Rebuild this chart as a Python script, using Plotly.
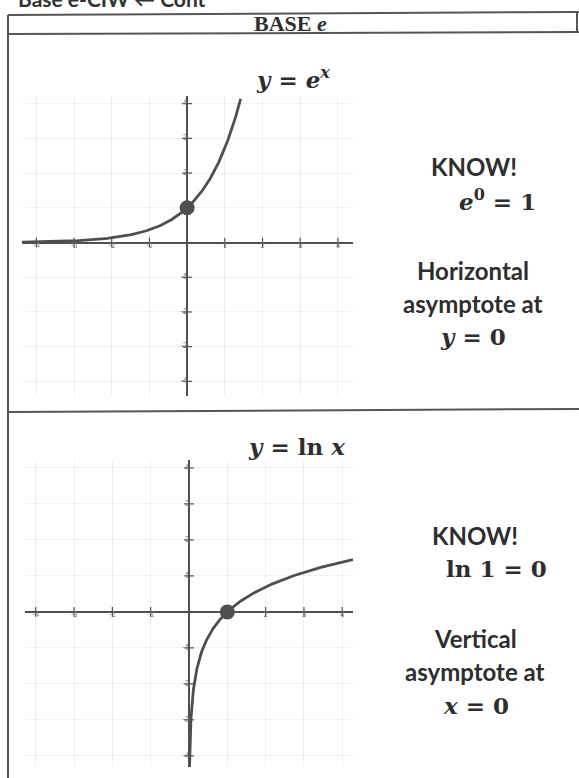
import numpy as np
import plotly.graph_objects as go

W, H = 579, 778

# Integer tick positions shared by both coordinate planes
TICKS = [-4, -3, -2, -1, 1, 2, 3, 4]
GRID = [-4, -3, -2, -1, 0, 1, 2, 3, 4]

# Plot windows (data units)
EXP_XRANGE = [-4.38, 4.40]
EXP_YRANGE = [-4.42, 4.22]
LN_XRANGE = [-4.28, 4.28]
LN_YRANGE = [-4.31, 4.22]

# Highlighted points: e^0 = 1 and ln 1 = 0
EXP_POINT = (0, 1)
LN_POINT = (1, 0)

# Curve samples
exp_x = np.arange(EXP_XRANGE[0], 1.44, 0.02)
exp_y = np.exp(exp_x)
ln_x = np.geomspace(np.exp(LN_YRANGE[0]), LN_XRANGE[1], 300)
ln_y = np.log(ln_x)

INK = "#4f4f4f"
TEXT = "#2e2e2e"
GRIDC = "rgba(0,0,0,0.06)"
SERIF = "Liberation Serif"
MATH = "DejaVu Serif"
SANS = "Lato"
SP = "\u00a0"


def px(x):
    return x / W


def py(y):
    return 1 - y / H


fig = go.Figure()


def plane(xref, yref, cx, cy, pt):
    # curve
    fig.add_trace(go.Scatter(x=cx, y=cy, mode="lines", xaxis=xref, yaxis=yref,
                             line=dict(color=INK, width=2.8), hoverinfo="skip"))
    # tick marks on the axes
    fig.add_trace(go.Scatter(x=TICKS, y=[0] * len(TICKS), mode="markers",
                             xaxis=xref, yaxis=yref,
                             marker=dict(symbol="line-ns", size=7,
                                         line=dict(color=INK, width=1.2)),
                             hoverinfo="skip"))
    fig.add_trace(go.Scatter(x=[0] * len(TICKS), y=TICKS, mode="markers",
                             xaxis=xref, yaxis=yref,
                             marker=dict(symbol="line-ew", size=7,
                                         line=dict(color=INK, width=1.2)),
                             hoverinfo="skip"))
    # tick labels
    fig.add_trace(go.Scatter(x=TICKS, y=[0] * len(TICKS), mode="text",
                             xaxis=xref, yaxis=yref,
                             text=[str(t) for t in TICKS],
                             textposition="bottom center",
                             textfont=dict(size=7, color="#777", family=SANS),
                             hoverinfo="skip"))
    fig.add_trace(go.Scatter(x=[0] * len(TICKS), y=TICKS, mode="text",
                             xaxis=xref, yaxis=yref,
                             text=[str(t) for t in TICKS],
                             textposition="middle left",
                             textfont=dict(size=7, color="#777", family=SANS),
                             hoverinfo="skip"))
    # key point
    fig.add_trace(go.Scatter(x=[pt[0]], y=[pt[1]], mode="markers",
                             xaxis=xref, yaxis=yref,
                             marker=dict(size=15, color=INK), hoverinfo="skip"))


plane("x", "y", exp_x, exp_y, EXP_POINT)
plane("x2", "y2", ln_x, ln_y, LN_POINT)

axis_common = dict(showgrid=True, gridcolor=GRIDC, gridwidth=1,
                   zeroline=True, zerolinecolor=INK, zerolinewidth=2,
                   showticklabels=False, ticks="", showline=False,
                   tickmode="array", tickvals=GRID, fixedrange=True)

fig.update_layout(
    width=W, height=H, margin=dict(l=0, r=0, t=0, b=0),
    paper_bgcolor="white", plot_bgcolor="white", showlegend=False,
    xaxis=dict(domain=[px(22), px(353)], range=EXP_XRANGE, anchor="y", **axis_common),
    yaxis=dict(domain=[py(396), py(96)], range=EXP_YRANGE, anchor="x", **axis_common),
    xaxis2=dict(domain=[px(25), px(353)], range=LN_XRANGE, anchor="y2", **axis_common),
    yaxis2=dict(domain=[py(767), py(460)], range=LN_YRANGE, anchor="x2", **axis_common),
)

# Table frame
FRAME = "#555"
shapes = [
    dict(type="line", x0=px(8), x1=px(579), y0=py(15), y1=py(12)),
    dict(type="line", x0=px(8), x1=px(579), y0=py(34), y1=py(32)),
    dict(type="line", x0=px(8), x1=px(579), y0=py(412), y1=py(409)),
    dict(type="line", x0=px(8), x1=px(8), y0=py(15), y1=py(778)),
    dict(type="line", x0=px(577), x1=px(577), y0=py(12), y1=py(32)),
]
for s in shapes:
    s.update(xref="paper", yref="paper", line=dict(color=FRAME, width=2))
fig.update_layout(shapes=shapes)


def note(x, y, text, size, family, color=TEXT, weight="bold", xanchor="center"):
    fig.add_annotation(x=px(x), y=py(y), xref="paper", yref="paper",
                       text=text, showarrow=False, xanchor=xanchor, yanchor="middle",
                       font=dict(size=size, family=family, color=color, weight=weight))


# running header, cut at the top edge
note(16, -2, "Base e-CIW ← Cont", 21, SANS, color="#333", xanchor="left")

note(290, 23, "BASE <i>e</i>", 22, SERIF)

note(293, 78, f"<i>y</i>{SP}={SP}<i>e</i><sup><i>x</i></sup>", 23, MATH)
note(296, 446, f"<i>y</i>{SP}={SP}ln{SP}<i>x</i>", 23, MATH)

note(474, 167, "KNOW!", 24, SANS)
note(497, 200, f"<i>e</i><sup>0</sup>{SP}={SP}1", 23, MATH)
note(473, 271, "Horizontal", 24, SANS)
note(473, 303, "asymptote at", 24, SANS)
note(473, 336, f"<i>y</i>{SP}={SP}0", 23, MATH)

note(475, 535, "KNOW!", 24, SANS)
note(496, 568, f"ln{SP}1{SP}={SP}0", 23, MATH)
note(475, 638, "Vertical", 24, SANS)
note(475, 671, "asymptote at", 24, SANS)
note(476, 705, f"<i>x</i>{SP}={SP}0", 23, MATH)

fig.write_html("out.html")
